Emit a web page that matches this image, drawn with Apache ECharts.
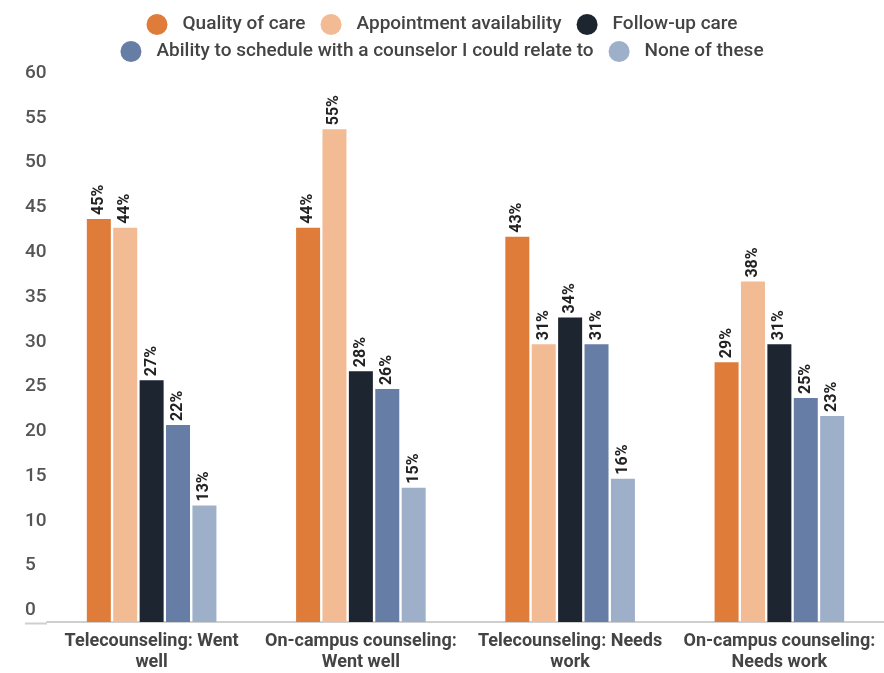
<!DOCTYPE html>
<html>
<head>
<meta charset="utf-8">
<style>
  html, body { margin: 0; padding: 0; background: #fff; }
  #chart { width: 884px; height: 673px; }
</style>
<script src="https://cdn.jsdelivr.net/npm/echarts@6/dist/echarts.min.js"></script>
</head>
<body>
<div id="chart"></div>
<script>
// Categories along the x axis
const categories = [
  'Telecounseling: Went\nwell',
  'On-campus counseling:\nWent well',
  'Telecounseling: Needs\nwork',
  'On-campus counseling:\nNeeds work'
];

// Share of respondents (%) per category
const qualityOfCare = [45, 44, 43, 29];
const appointmentAvailability = [44, 55, 31, 38];
const followUpCare = [27, 28, 34, 31];
const abilityToSchedule = [22, 26, 31, 25];
const noneOfThese = [13, 15, 16, 23];

const seriesNames = [
  'Quality of care',
  'Appointment availability',
  'Follow-up care',
  'Ability to schedule with a counselor I could relate to',
  'None of these'
];
const seriesData = [qualityOfCare, appointmentAvailability, followUpCare, abilityToSchedule, noneOfThese];
const colors = ['#E07C3A', '#F2BB93', '#1D2531', '#667EA6', '#9DAFC9'];

const FONT = 'Roboto, "Noto Sans", sans-serif';

const chart = echarts.init(document.getElementById('chart'), null, { renderer: 'canvas' });

const legendCommon = {
  left: 'center',
  icon: 'circle',
  itemWidth: 21,
  itemHeight: 21,
  itemGap: 15,
  textStyle: {
    fontFamily: FONT, fontSize: 19, fontWeight: 500, color: '#444',
    padding: [0, 0, 0, 10]
  }
};

chart.setOption({
  color: colors,
  animation: false,
  legend: [
    Object.assign({ top: 9, data: seriesNames.slice(0, 3) }, legendCommon),
    Object.assign({ top: 36, data: seriesNames.slice(3) }, legendCommon)
  ],
  grid: { left: 47, right: -3, top: 84.5, bottom: 49.5, containLabel: false },
  xAxis: {
    type: 'category',
    data: categories,
    axisTick: { show: false },
    axisLine: { show: true, lineStyle: { color: '#cfcfcf', width: 2 } },
    axisLabel: {
      interval: 0,
      margin: 9,
      fontFamily: FONT,
      fontSize: 18,
      fontWeight: 'bold',
      lineHeight: 21,
      color: '#444'
    }
  },
  yAxis: {
    type: 'value',
    min: 0,
    max: 60,
    interval: 5,
    splitLine: { show: false },
    axisLine: { show: false },
    axisTick: { show: false },
    axisLabel: {
      align: 'left',
      verticalAlign: 'bottom',
      margin: 22,
      padding: [0, 0, 2, 0],
      fontFamily: FONT,
      fontSize: 19,
      fontWeight: 500,
      color: '#555'
    }
  },
  graphic: [{
    type: 'line',
    shape: { x1: 25, y1: 623.5, x2: 47, y2: 623.5 },
    style: { stroke: '#cfcfcf', lineWidth: 2 },
    silent: true
  }],
  series: seriesData.map((data, i) => ({
    name: seriesNames[i],
    type: 'bar',
    data: data,
    barWidth: 24,
    barGap: '10%',
    label: {
      show: true,
      position: 'top',
      rotate: 90,
      align: 'left',
      verticalAlign: 'middle',
      distance: 4,
      formatter: '{c}%',
      fontFamily: FONT,
      fontSize: 16,
      fontWeight: 'bold',
      color: '#222'
    }
  }))
});
</script>
</body>
</html>
